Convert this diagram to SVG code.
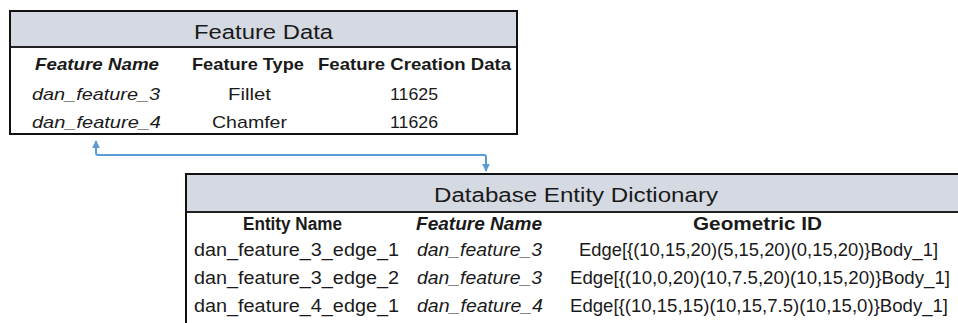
<svg xmlns="http://www.w3.org/2000/svg" width="958" height="323" viewBox="0 0 958 323">
<defs>
<style>
text{font-family:"Liberation Sans",Arial,sans-serif;fill:#1a1a1a;font-size:17px}
.title{font-size:19.5px}
.big{font-size:17.5px}
.b{font-weight:bold}
.i{font-style:italic}
.band{fill:#d5d9e1}
.frame{fill:none;stroke:#111;stroke-width:2}
.sep{stroke:#222;stroke-width:2}
.conn{fill:none;stroke:#5b9bd5;stroke-width:2}
</style>
<marker id="ah" viewBox="0 0 10 10" refX="9" refY="5" markerWidth="4" markerHeight="4" orient="auto-start-reverse" markerUnits="strokeWidth">
<path d="M0,0 L10,5 L0,10 z" fill="#5b9bd5"/>
</marker>
</defs>
<rect width="958" height="323" fill="#ffffff"/>
<g id="feature-data">
<rect class="band" x="10" y="11" width="507" height="36"/>
<rect x="10" y="47" width="507" height="87" fill="#ffffff"/>
<line class="sep" x1="10" y1="47" x2="517" y2="47"/>
<rect class="frame" x="10" y="11" width="507" height="123"/>
<text class="title" x="194" y="39" textLength="139" lengthAdjust="spacingAndGlyphs">Feature Data</text>
<text class="b i" x="35" y="70" textLength="124" lengthAdjust="spacingAndGlyphs">Feature Name</text>
<text class="b" x="192" y="70" textLength="112" lengthAdjust="spacingAndGlyphs">Feature Type</text>
<text class="b" x="318" y="70" textLength="193" lengthAdjust="spacingAndGlyphs">Feature Creation Data</text>
<text class="i" x="32" y="100" textLength="128" lengthAdjust="spacingAndGlyphs">dan_feature_3</text>
<text x="228" y="100" textLength="43" lengthAdjust="spacingAndGlyphs">Fillet</text>
<text x="390" y="100" textLength="48" lengthAdjust="spacingAndGlyphs">11625</text>
<text class="i" x="32" y="128" textLength="129" lengthAdjust="spacingAndGlyphs">dan_feature_4</text>
<text x="212" y="128" textLength="75" lengthAdjust="spacingAndGlyphs">Chamfer</text>
<text x="390" y="128" textLength="48" lengthAdjust="spacingAndGlyphs">11626</text>
</g>
<g id="entity-dictionary">
<rect class="band" x="186" y="174" width="780" height="38"/>
<rect x="186" y="212" width="780" height="120" fill="#ffffff"/>
<line class="sep" x1="186" y1="212" x2="966" y2="212"/>
<rect class="frame" x="186" y="174" width="780" height="160"/>
<text class="title" x="434" y="202" textLength="284" lengthAdjust="spacingAndGlyphs">Database Entity Dictionary</text>
<text class="b big" x="243" y="230" textLength="99" lengthAdjust="spacingAndGlyphs">Entity Name</text>
<text class="b i big" x="416" y="230" textLength="126" lengthAdjust="spacingAndGlyphs">Feature Name</text>
<text class="b big" x="693" y="230" textLength="129" lengthAdjust="spacingAndGlyphs">Geometric ID</text>
<text class="big" x="194" y="256" textLength="205" lengthAdjust="spacingAndGlyphs">dan_feature_3_edge_1</text>
<text class="i big" x="417" y="256" textLength="125" lengthAdjust="spacingAndGlyphs">dan_feature_3</text>
<text class="big" x="579" y="256" textLength="359" lengthAdjust="spacingAndGlyphs">Edge[{(10,15,20)(5,15,20)(0,15,20)}Body_1]</text>
<text class="big" x="194" y="284" textLength="205" lengthAdjust="spacingAndGlyphs">dan_feature_3_edge_2</text>
<text class="i big" x="417" y="284" textLength="125" lengthAdjust="spacingAndGlyphs">dan_feature_3</text>
<text class="big" x="570" y="284" textLength="380" lengthAdjust="spacingAndGlyphs">Edge[{(10,0,20)(10,7.5,20)(10,15,20)}Body_1]</text>
<text class="big" x="194" y="312" textLength="205" lengthAdjust="spacingAndGlyphs">dan_feature_4_edge_1</text>
<text class="i big" x="417" y="312" textLength="126" lengthAdjust="spacingAndGlyphs">dan_feature_4</text>
<text class="big" x="570" y="312" textLength="378" lengthAdjust="spacingAndGlyphs">Edge[{(10,15,15)(10,15,7.5)(10,15,0)}Body_1]</text>
</g>
<g id="connectors">
<path class="conn" d="M96,141 L96,153 Q96,155 98,155 L484,155 Q486,155 486,157 L486,171" marker-start="url(#ah)" marker-end="url(#ah)"/>
</g>
</svg>
